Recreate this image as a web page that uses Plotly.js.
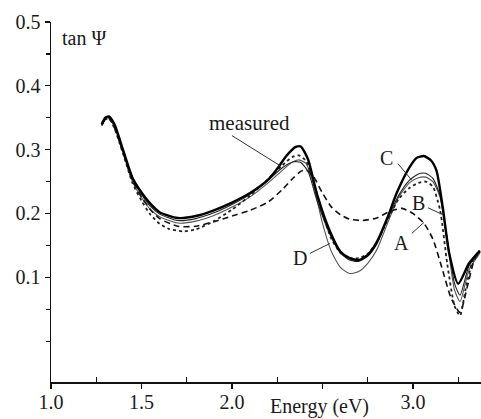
<!DOCTYPE html>
<html>
<head>
<meta charset="utf-8">
<script src="https://cdn.plot.ly/plotly-3.0.1.min.js"></script>
<style>html,body{margin:0;padding:0;background:#fff}#chart{width:481px;height:419px}</style>
</head>
<body>
<div id="chart"></div>
<script>
// Measured spectrum (thick solid)
const measuredE   = [1.28,1.30,1.32,1.35,1.40,1.45,1.50,1.55,1.60,1.70,1.80,1.90,2.00,2.10,2.20,2.25,2.30,2.35,2.38,2.42,2.47,2.54,2.60,2.65,2.70,2.75,2.80,2.86,2.91,2.98,3.02,3.06,3.10,3.13,3.165,3.20,3.25,3.31,3.37];
const measuredTan = [0.340,0.350,0.352,0.340,0.298,0.256,0.233,0.215,0.202,0.193,0.196,0.205,0.217,0.232,0.253,0.270,0.290,0.304,0.305,0.285,0.230,0.173,0.140,0.130,0.127,0.135,0.155,0.194,0.232,0.272,0.287,0.290,0.283,0.267,0.209,0.138,0.090,0.122,0.142];

// Model A (dashed)
const aE   = [1.28,1.30,1.32,1.35,1.40,1.45,1.50,1.55,1.60,1.70,1.80,1.90,2.00,2.10,2.20,2.28,2.34,2.38,2.41,2.45,2.50,2.55,2.60,2.65,2.72,2.80,2.87,2.94,3.00,3.06,3.11,3.16,3.21,3.26,3.30,3.34,3.37];
const aTan = [0.338,0.347,0.349,0.335,0.294,0.252,0.226,0.206,0.192,0.180,0.180,0.187,0.196,0.205,0.218,0.238,0.256,0.266,0.268,0.258,0.232,0.210,0.198,0.191,0.189,0.193,0.203,0.208,0.200,0.185,0.160,0.115,0.068,0.045,0.085,0.128,0.140];

// Model B (dotted)
const bE   = [1.28,1.30,1.32,1.35,1.40,1.45,1.50,1.55,1.60,1.65,1.73,1.80,1.90,2.00,2.10,2.20,2.28,2.33,2.37,2.41,2.45,2.50,2.55,2.60,2.65,2.70,2.75,2.80,2.86,2.92,2.98,3.03,3.07,3.11,3.15,3.19,3.23,3.26,3.29,3.33,3.37];
const bTan = [0.338,0.347,0.349,0.334,0.292,0.248,0.220,0.198,0.184,0.176,0.172,0.175,0.188,0.206,0.228,0.254,0.276,0.288,0.291,0.282,0.250,0.200,0.160,0.138,0.130,0.130,0.137,0.155,0.190,0.222,0.240,0.248,0.250,0.242,0.205,0.120,0.055,0.040,0.080,0.125,0.140];

// Model C (thin solid)
const cE   = [1.28,1.30,1.32,1.35,1.40,1.45,1.50,1.55,1.60,1.70,1.80,1.90,2.00,2.10,2.20,2.28,2.34,2.38,2.42,2.47,2.54,2.60,2.65,2.70,2.75,2.80,2.86,2.92,2.98,3.03,3.07,3.11,3.15,3.19,3.23,3.26,3.31,3.37];
const cTan = [0.340,0.349,0.351,0.338,0.296,0.254,0.230,0.211,0.199,0.189,0.192,0.201,0.214,0.230,0.252,0.272,0.281,0.280,0.266,0.220,0.168,0.138,0.127,0.125,0.133,0.152,0.192,0.228,0.252,0.262,0.263,0.255,0.228,0.160,0.090,0.072,0.118,0.140];

// Model D (thin grey solid)
const dE   = [1.28,1.30,1.32,1.35,1.40,1.45,1.50,1.55,1.60,1.70,1.80,1.90,2.00,2.10,2.20,2.28,2.33,2.37,2.41,2.45,2.50,2.55,2.60,2.65,2.70,2.75,2.80,2.86,2.92,2.98,3.03,3.07,3.11,3.15,3.19,3.23,3.26,3.31,3.37];
const dTan = [0.340,0.348,0.350,0.336,0.293,0.250,0.225,0.206,0.195,0.185,0.188,0.197,0.210,0.226,0.248,0.268,0.280,0.284,0.278,0.245,0.185,0.140,0.115,0.106,0.109,0.122,0.143,0.185,0.225,0.248,0.256,0.257,0.250,0.225,0.155,0.080,0.062,0.112,0.138];

// Axis ticks
const xTickVals = [1.0,1.5,2.0,2.5,3.0];
const xTickText = ['1.0','1.5','2.0','','3.0'];
const xMinorVals = [1.25,1.75,2.25,2.75,3.25];
const yTickVals = [0.1,0.2,0.3,0.4,0.5];
const yTickText = ['0.1','0.2','0.3','0.4','0.5'];
const yMinorVals = [0,0.05,0.15,0.25,0.35,0.45];

const serif = 'Liberation Serif';
const ink = '#1a1a1a';

const mk = (x, y, color, width, dash) => ({
  x: x, y: y, type: 'scatter', mode: 'lines',
  line: {color: color, width: width, dash: dash, shape: 'spline', smoothing: 0.6},
  hoverinfo: 'skip', showlegend: false
});

const traces = [
  mk(dE, dTan, '#555555', 1.1, 'solid'),
  mk(aE, aTan, '#111111', 1.6, '6px,4px'),
  mk(bE, bTan, '#222222', 1.8, 'dot'),
  mk(cE, cTan, '#222222', 1.1, 'solid'),
  mk(measuredE, measuredTan, '#000000', 2.4, 'solid')
];

const lbl = (text, x, y, size) => ({
  text: text, x: x, y: y, xref: 'x', yref: 'y', showarrow: false,
  font: {family: serif, size: size || 20, color: ink}, xanchor: 'center', yanchor: 'middle'
});
const seg = (x0, y0, x1, y1) => ({
  type: 'line', xref: 'x', yref: 'y', x0: x0, y0: y0, x1: x1, y1: y1,
  line: {color: '#333', width: 1}
});

const layout = {
  width: 481, height: 419,
  margin: {l: 51, r: 0, t: 22, b: 37},
  paper_bgcolor: '#fff', plot_bgcolor: '#fff',
  xaxis: {
    range: [1.0, 3.376], showgrid: false, zeroline: false,
    showline: true, linecolor: '#111', linewidth: 1.5,
    tickmode: 'array', tickvals: xTickVals, ticktext: xTickText,
    ticks: 'outside', ticklen: 5, tickwidth: 1.3, tickcolor: '#111',
    ticklabelstandoff: -4,
    tickfont: {family: serif, size: 20, color: ink},
    minor: {tickmode: 'array', tickvals: xMinorVals, ticks: 'inside', ticklen: 5, tickwidth: 1.3, tickcolor: '#111', showgrid: false},
    fixedrange: true
  },
  yaxis: {
    range: [-0.064, 0.5], showgrid: false, zeroline: false,
    showline: true, linecolor: '#111', linewidth: 1.5,
    tickmode: 'array', tickvals: yTickVals, ticktext: yTickText,
    ticks: 'outside', ticklen: 5, tickwidth: 1.3, tickcolor: '#111',
    tickfont: {family: serif, size: 20, color: ink},
    minor: {tickmode: 'array', tickvals: yMinorVals, ticks: 'outside', ticklen: 4, tickwidth: 1.3, tickcolor: '#111', showgrid: false},
    fixedrange: true
  },
  annotations: [
    {text: 'tan Ψ', xref: 'paper', yref: 'paper', x: 0.02, y: 0.955, xanchor: 'left', yanchor: 'middle',
     showarrow: false, font: {family: serif, size: 20, color: ink}},
    {text: 'Energy (eV)', xref: 'x', yref: 'paper', x: 2.486, y: -0.069, xanchor: 'center', yanchor: 'middle',
     showarrow: false, font: {family: serif, size: 20, color: ink}},
    lbl('measured', 2.099, 0.341, 21),
    lbl('C', 2.856, 0.2875),
    lbl('B', 3.028, 0.216),
    lbl('A', 2.939, 0.153),
    lbl('D', 2.376, 0.131)
  ],
  shapes: [
    seg(2.0, 0.322, 2.265, 0.275),
    seg(2.917, 0.278, 2.994, 0.252),
    seg(3.083, 0.209, 3.166, 0.198),
    seg(2.994, 0.169, 3.061, 0.186),
    seg(2.431, 0.1375, 2.541, 0.153)
  ]
};

Plotly.newPlot('chart', traces, layout, {displayModeBar: false, staticPlot: true});
</script>
</body>
</html>
